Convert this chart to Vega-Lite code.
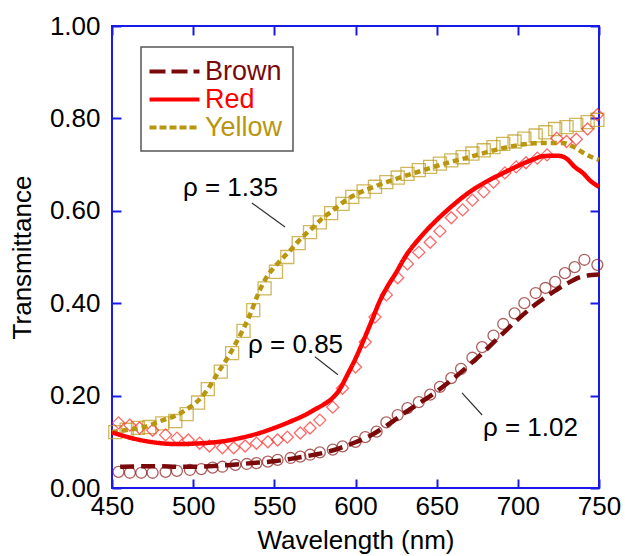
{
  "$schema": "https://vega.github.io/schema/vega-lite/v6.json",
  "width": 487,
  "height": 462,
  "autosize": {"type": "none"},
  "padding": {"left": 112, "top": 26, "right": 26, "bottom": 68},
  "background": "white",
  "config": {
    "view": {"stroke": "#1a1ae6", "strokeWidth": 2},
    "font": "Liberation Sans",
    "axis": {
      "grid": false, "domain": false, "tickColor": "#1a1ae6", "tickWidth": 2, "tickSize": -9,
      "labelFont": "Liberation Sans", "labelFontSize": 26, "labelColor": "#000",
      "titleFont": "Liberation Sans", "titleFontSize": 26, "titleFontWeight": "normal", "titleColor": "#000",
      "labelFlush": false, "labelOverlap": false
    },
    "legend": {
      "orient": "none", "legendX": 29, "legendY": 21,
      "padding": 10, "strokeColor": "#555", "strokeWidth": 1.5, "fillColor": "white",
      "labelFont": "Liberation Sans", "labelFontSize": 27,
      "symbolType": "M-2,0L2,0", "symbolSize": 625, "symbolStrokeWidth": 4, "symbolOffset": 9,
      "labelOffset": 16, "rowPadding": 0
    }
  },
  "datasets": {
    "model": [
      {"series": "Yellow", "wl": 450, "t": 0.121}, {"series": "Yellow", "wl": 460, "t": 0.126}, {"series": "Yellow", "wl": 470, "t": 0.132},
      {"series": "Yellow", "wl": 480, "t": 0.145}, {"series": "Yellow", "wl": 490, "t": 0.158}, {"series": "Yellow", "wl": 495, "t": 0.168},
      {"series": "Yellow", "wl": 500, "t": 0.18}, {"series": "Yellow", "wl": 505, "t": 0.196}, {"series": "Yellow", "wl": 510, "t": 0.219},
      {"series": "Yellow", "wl": 515, "t": 0.248}, {"series": "Yellow", "wl": 520, "t": 0.275}, {"series": "Yellow", "wl": 525, "t": 0.305},
      {"series": "Yellow", "wl": 530, "t": 0.338}, {"series": "Yellow", "wl": 535, "t": 0.375}, {"series": "Yellow", "wl": 540, "t": 0.42},
      {"series": "Yellow", "wl": 545, "t": 0.455}, {"series": "Yellow", "wl": 550, "t": 0.478}, {"series": "Yellow", "wl": 555, "t": 0.497},
      {"series": "Yellow", "wl": 560, "t": 0.515}, {"series": "Yellow", "wl": 565, "t": 0.535}, {"series": "Yellow", "wl": 570, "t": 0.552},
      {"series": "Yellow", "wl": 575, "t": 0.568}, {"series": "Yellow", "wl": 580, "t": 0.585}, {"series": "Yellow", "wl": 585, "t": 0.598},
      {"series": "Yellow", "wl": 590, "t": 0.612}, {"series": "Yellow", "wl": 595, "t": 0.625}, {"series": "Yellow", "wl": 600, "t": 0.635},
      {"series": "Yellow", "wl": 610, "t": 0.65}, {"series": "Yellow", "wl": 620, "t": 0.663}, {"series": "Yellow", "wl": 630, "t": 0.675},
      {"series": "Yellow", "wl": 640, "t": 0.686}, {"series": "Yellow", "wl": 650, "t": 0.697}, {"series": "Yellow", "wl": 660, "t": 0.707},
      {"series": "Yellow", "wl": 670, "t": 0.716}, {"series": "Yellow", "wl": 680, "t": 0.726}, {"series": "Yellow", "wl": 690, "t": 0.735},
      {"series": "Yellow", "wl": 700, "t": 0.742}, {"series": "Yellow", "wl": 710, "t": 0.746}, {"series": "Yellow", "wl": 720, "t": 0.747},
      {"series": "Yellow", "wl": 728, "t": 0.747}, {"series": "Yellow", "wl": 734, "t": 0.739}, {"series": "Yellow", "wl": 740, "t": 0.726},
      {"series": "Yellow", "wl": 745, "t": 0.717}, {"series": "Yellow", "wl": 750, "t": 0.71},

      {"series": "Red", "wl": 450, "t": 0.12}, {"series": "Red", "wl": 455, "t": 0.115}, {"series": "Red", "wl": 460, "t": 0.11},
      {"series": "Red", "wl": 470, "t": 0.102}, {"series": "Red", "wl": 480, "t": 0.097}, {"series": "Red", "wl": 490, "t": 0.095},
      {"series": "Red", "wl": 500, "t": 0.096}, {"series": "Red", "wl": 510, "t": 0.098}, {"series": "Red", "wl": 520, "t": 0.102},
      {"series": "Red", "wl": 530, "t": 0.109}, {"series": "Red", "wl": 540, "t": 0.118}, {"series": "Red", "wl": 550, "t": 0.13},
      {"series": "Red", "wl": 560, "t": 0.144}, {"series": "Red", "wl": 570, "t": 0.16}, {"series": "Red", "wl": 575, "t": 0.17},
      {"series": "Red", "wl": 580, "t": 0.18}, {"series": "Red", "wl": 585, "t": 0.192}, {"series": "Red", "wl": 590, "t": 0.212},
      {"series": "Red", "wl": 595, "t": 0.245}, {"series": "Red", "wl": 600, "t": 0.28}, {"series": "Red", "wl": 605, "t": 0.32},
      {"series": "Red", "wl": 610, "t": 0.362}, {"series": "Red", "wl": 615, "t": 0.405}, {"series": "Red", "wl": 620, "t": 0.438},
      {"series": "Red", "wl": 625, "t": 0.466}, {"series": "Red", "wl": 630, "t": 0.497}, {"series": "Red", "wl": 640, "t": 0.543},
      {"series": "Red", "wl": 650, "t": 0.58}, {"series": "Red", "wl": 660, "t": 0.612}, {"series": "Red", "wl": 670, "t": 0.64},
      {"series": "Red", "wl": 680, "t": 0.662}, {"series": "Red", "wl": 690, "t": 0.68}, {"series": "Red", "wl": 700, "t": 0.697},
      {"series": "Red", "wl": 710, "t": 0.712}, {"series": "Red", "wl": 715, "t": 0.718}, {"series": "Red", "wl": 720, "t": 0.719},
      {"series": "Red", "wl": 725, "t": 0.719}, {"series": "Red", "wl": 730, "t": 0.713}, {"series": "Red", "wl": 735, "t": 0.695},
      {"series": "Red", "wl": 740, "t": 0.682}, {"series": "Red", "wl": 745, "t": 0.664}, {"series": "Red", "wl": 750, "t": 0.652},

      {"series": "Brown", "wl": 455, "t": 0.046}, {"series": "Brown", "wl": 470, "t": 0.047}, {"series": "Brown", "wl": 480, "t": 0.047},
      {"series": "Brown", "wl": 490, "t": 0.046}, {"series": "Brown", "wl": 500, "t": 0.046}, {"series": "Brown", "wl": 510, "t": 0.047},
      {"series": "Brown", "wl": 520, "t": 0.049}, {"series": "Brown", "wl": 530, "t": 0.052}, {"series": "Brown", "wl": 540, "t": 0.055},
      {"series": "Brown", "wl": 550, "t": 0.058}, {"series": "Brown", "wl": 560, "t": 0.063}, {"series": "Brown", "wl": 570, "t": 0.069},
      {"series": "Brown", "wl": 580, "t": 0.076}, {"series": "Brown", "wl": 590, "t": 0.086}, {"series": "Brown", "wl": 600, "t": 0.099},
      {"series": "Brown", "wl": 610, "t": 0.115}, {"series": "Brown", "wl": 620, "t": 0.137}, {"series": "Brown", "wl": 630, "t": 0.162},
      {"series": "Brown", "wl": 640, "t": 0.185}, {"series": "Brown", "wl": 650, "t": 0.209}, {"series": "Brown", "wl": 660, "t": 0.236},
      {"series": "Brown", "wl": 670, "t": 0.266}, {"series": "Brown", "wl": 680, "t": 0.298}, {"series": "Brown", "wl": 690, "t": 0.332},
      {"series": "Brown", "wl": 700, "t": 0.365}, {"series": "Brown", "wl": 710, "t": 0.395}, {"series": "Brown", "wl": 720, "t": 0.42},
      {"series": "Brown", "wl": 730, "t": 0.442}, {"series": "Brown", "wl": 740, "t": 0.458}, {"series": "Brown", "wl": 750, "t": 0.462}
    ],
    "measured": [
      {"series": "Yellow", "wl": 452, "t": 0.121}, {"series": "Yellow", "wl": 459, "t": 0.126}, {"series": "Yellow", "wl": 466, "t": 0.13},
      {"series": "Yellow", "wl": 473, "t": 0.132}, {"series": "Yellow", "wl": 481, "t": 0.14}, {"series": "Yellow", "wl": 489, "t": 0.145},
      {"series": "Yellow", "wl": 496, "t": 0.16}, {"series": "Yellow", "wl": 503, "t": 0.185}, {"series": "Yellow", "wl": 509, "t": 0.214},
      {"series": "Yellow", "wl": 517, "t": 0.252}, {"series": "Yellow", "wl": 524, "t": 0.292}, {"series": "Yellow", "wl": 531, "t": 0.34},
      {"series": "Yellow", "wl": 537, "t": 0.385}, {"series": "Yellow", "wl": 544, "t": 0.432}, {"series": "Yellow", "wl": 551, "t": 0.468},
      {"series": "Yellow", "wl": 558, "t": 0.5}, {"series": "Yellow", "wl": 565, "t": 0.53}, {"series": "Yellow", "wl": 572, "t": 0.554},
      {"series": "Yellow", "wl": 578, "t": 0.575}, {"series": "Yellow", "wl": 585, "t": 0.595}, {"series": "Yellow", "wl": 592, "t": 0.615},
      {"series": "Yellow", "wl": 598, "t": 0.63}, {"series": "Yellow", "wl": 605, "t": 0.642}, {"series": "Yellow", "wl": 612, "t": 0.652},
      {"series": "Yellow", "wl": 619, "t": 0.662}, {"series": "Yellow", "wl": 626, "t": 0.672}, {"series": "Yellow", "wl": 632, "t": 0.68},
      {"series": "Yellow", "wl": 639, "t": 0.688}, {"series": "Yellow", "wl": 646, "t": 0.695}, {"series": "Yellow", "wl": 652, "t": 0.702},
      {"series": "Yellow", "wl": 659, "t": 0.709}, {"series": "Yellow", "wl": 666, "t": 0.716}, {"series": "Yellow", "wl": 672, "t": 0.724},
      {"series": "Yellow", "wl": 679, "t": 0.731}, {"series": "Yellow", "wl": 685, "t": 0.738}, {"series": "Yellow", "wl": 691, "t": 0.745},
      {"series": "Yellow", "wl": 698, "t": 0.75}, {"series": "Yellow", "wl": 704, "t": 0.756}, {"series": "Yellow", "wl": 711, "t": 0.763},
      {"series": "Yellow", "wl": 717, "t": 0.77}, {"series": "Yellow", "wl": 723, "t": 0.777}, {"series": "Yellow", "wl": 730, "t": 0.781},
      {"series": "Yellow", "wl": 736, "t": 0.786}, {"series": "Yellow", "wl": 743, "t": 0.792}, {"series": "Yellow", "wl": 749, "t": 0.797},

      {"series": "Red", "wl": 454, "t": 0.141}, {"series": "Red", "wl": 461, "t": 0.136}, {"series": "Red", "wl": 467, "t": 0.13},
      {"series": "Red", "wl": 475, "t": 0.125}, {"series": "Red", "wl": 483, "t": 0.115}, {"series": "Red", "wl": 490, "t": 0.108},
      {"series": "Red", "wl": 497, "t": 0.104}, {"series": "Red", "wl": 504, "t": 0.097}, {"series": "Red", "wl": 510, "t": 0.091},
      {"series": "Red", "wl": 518, "t": 0.087}, {"series": "Red", "wl": 525, "t": 0.087}, {"series": "Red", "wl": 532, "t": 0.091},
      {"series": "Red", "wl": 539, "t": 0.097}, {"series": "Red", "wl": 546, "t": 0.1}, {"series": "Red", "wl": 552, "t": 0.104},
      {"series": "Red", "wl": 558, "t": 0.11}, {"series": "Red", "wl": 566, "t": 0.119}, {"series": "Red", "wl": 572, "t": 0.13},
      {"series": "Red", "wl": 578, "t": 0.147}, {"series": "Red", "wl": 586, "t": 0.175}, {"series": "Red", "wl": 592, "t": 0.216},
      {"series": "Red", "wl": 600, "t": 0.262}, {"series": "Red", "wl": 606, "t": 0.316}, {"series": "Red", "wl": 612, "t": 0.37},
      {"series": "Red", "wl": 619, "t": 0.418}, {"series": "Red", "wl": 626, "t": 0.455}, {"series": "Red", "wl": 632, "t": 0.485},
      {"series": "Red", "wl": 639, "t": 0.51}, {"series": "Red", "wl": 646, "t": 0.532}, {"series": "Red", "wl": 652, "t": 0.556},
      {"series": "Red", "wl": 659, "t": 0.585}, {"series": "Red", "wl": 666, "t": 0.602}, {"series": "Red", "wl": 672, "t": 0.623},
      {"series": "Red", "wl": 679, "t": 0.641}, {"series": "Red", "wl": 685, "t": 0.662}, {"series": "Red", "wl": 692, "t": 0.682},
      {"series": "Red", "wl": 699, "t": 0.695}, {"series": "Red", "wl": 705, "t": 0.704}, {"series": "Red", "wl": 712, "t": 0.714},
      {"series": "Red", "wl": 718, "t": 0.721}, {"series": "Red", "wl": 724, "t": 0.757}, {"series": "Red", "wl": 730, "t": 0.75},
      {"series": "Red", "wl": 736, "t": 0.755}, {"series": "Red", "wl": 743, "t": 0.777}, {"series": "Red", "wl": 749, "t": 0.808},

      {"series": "Brown", "wl": 454, "t": 0.035}, {"series": "Brown", "wl": 461, "t": 0.033}, {"series": "Brown", "wl": 468, "t": 0.033},
      {"series": "Brown", "wl": 475, "t": 0.033}, {"series": "Brown", "wl": 483, "t": 0.035}, {"series": "Brown", "wl": 490, "t": 0.037},
      {"series": "Brown", "wl": 498, "t": 0.039}, {"series": "Brown", "wl": 505, "t": 0.041}, {"series": "Brown", "wl": 512, "t": 0.044},
      {"series": "Brown", "wl": 518, "t": 0.046}, {"series": "Brown", "wl": 526, "t": 0.05}, {"series": "Brown", "wl": 533, "t": 0.052},
      {"series": "Brown", "wl": 539, "t": 0.054}, {"series": "Brown", "wl": 546, "t": 0.057}, {"series": "Brown", "wl": 552, "t": 0.061},
      {"series": "Brown", "wl": 560, "t": 0.065}, {"series": "Brown", "wl": 566, "t": 0.068}, {"series": "Brown", "wl": 572, "t": 0.072},
      {"series": "Brown", "wl": 578, "t": 0.077}, {"series": "Brown", "wl": 586, "t": 0.083}, {"series": "Brown", "wl": 592, "t": 0.09},
      {"series": "Brown", "wl": 600, "t": 0.1}, {"series": "Brown", "wl": 606, "t": 0.11}, {"series": "Brown", "wl": 613, "t": 0.122},
      {"series": "Brown", "wl": 619, "t": 0.142}, {"series": "Brown", "wl": 626, "t": 0.158}, {"series": "Brown", "wl": 632, "t": 0.173},
      {"series": "Brown", "wl": 639, "t": 0.186}, {"series": "Brown", "wl": 646, "t": 0.202}, {"series": "Brown", "wl": 652, "t": 0.219},
      {"series": "Brown", "wl": 659, "t": 0.238}, {"series": "Brown", "wl": 665, "t": 0.258}, {"series": "Brown", "wl": 672, "t": 0.282},
      {"series": "Brown", "wl": 678, "t": 0.305}, {"series": "Brown", "wl": 685, "t": 0.33}, {"series": "Brown", "wl": 691, "t": 0.355},
      {"series": "Brown", "wl": 698, "t": 0.378}, {"series": "Brown", "wl": 704, "t": 0.4}, {"series": "Brown", "wl": 711, "t": 0.422},
      {"series": "Brown", "wl": 717, "t": 0.433}, {"series": "Brown", "wl": 723, "t": 0.446}, {"series": "Brown", "wl": 729, "t": 0.465},
      {"series": "Brown", "wl": 735, "t": 0.478}, {"series": "Brown", "wl": 741, "t": 0.494}, {"series": "Brown", "wl": 749, "t": 0.483}
    ],
    "labels": [
      {"label": "ρ = 1.35", "wl": 493.7, "t": 0.649},
      {"label": "ρ = 0.85", "wl": 533.8, "t": 0.31},
      {"label": "ρ = 1.02", "wl": 678.5, "t": 0.13}
    ],
    "leaders": [
      {"wl": 536.2, "t": 0.617, "wl2": 556.6, "t2": 0.565},
      {"wl": 575, "t": 0.284, "wl2": 589.2, "t2": 0.245},
      {"wl": 665.6, "t": 0.206, "wl2": 678, "t2": 0.158}
    ]
  },
  "layer": [
    {
      "data": {"name": "measured"},
      "mark": {"type": "point", "filled": false, "strokeWidth": 1.3},
      "encoding": {
        "x": {"field": "wl", "type": "quantitative", "scale": {"domain": [450, 750], "nice": false, "zero": false},
              "axis": {"orient": "top", "labels": false, "title": null, "values": [450, 500, 550, 600, 650, 700, 750]}},
        "y": {"field": "t", "type": "quantitative", "scale": {"domain": [0, 1], "nice": false},
              "axis": {"orient": "right", "labels": false, "title": null, "values": [0, 0.2, 0.4, 0.6, 0.8, 1]}},
        "color": {"field": "series", "type": "nominal", "legend": null,
                  "scale": {"domain": ["Brown", "Red", "Yellow"], "range": ["#8a1c1c", "#ff2a2a", "#bb9a18"]}},
        "shape": {"field": "series", "type": "nominal", "legend": null,
                  "scale": {"domain": ["Brown", "Red", "Yellow"], "range": ["circle", "diamond", "square"]}},
        "size": {"field": "series", "type": "nominal", "legend": null,
                 "scale": {"domain": ["Brown", "Red", "Yellow"], "range": [120, 170, 110]}}
      }
    },
    {
      "data": {"name": "model"},
      "mark": {"type": "line", "strokeWidth": 4.5, "interpolate": "monotone"},
      "encoding": {
        "x": {"field": "wl", "type": "quantitative", "scale": {"domain": [450, 750], "nice": false, "zero": false},
              "axis": {"orient": "bottom", "title": "Wavelength (nm)", "values": [450, 500, 550, 600, 650, 700, 750], "labelPadding": 14, "titlePadding": 8}},
        "y": {"field": "t", "type": "quantitative", "scale": {"domain": [0, 1], "nice": false},
              "axis": {"orient": "left", "title": "Transmittance", "values": [0, 0.2, 0.4, 0.6, 0.8, 1], "format": ".2f", "labelPadding": 21, "titlePadding": 14}},
        "color": {"field": "series", "type": "nominal",
                  "scale": {"domain": ["Brown", "Red", "Yellow"], "range": ["#7a0a0a", "#ff0000", "#b8960f"]},
                  "legend": {"title": null, "encode": {
                    "labels": {"update": {"fill": {"signal": "datum.value === 'Brown' ? '#7a0a0a' : datum.value === 'Red' ? '#ff0000' : '#b8960f'"}}},
                    "symbols": {"update": {"strokeDash": {"signal": "datum.value === 'Brown' ? [16, 6] : datum.value === 'Red' ? [1, 0] : [7, 3]"}}}}}},
        "strokeDash": {"field": "series", "type": "nominal",
                       "scale": {"domain": ["Brown", "Red", "Yellow"], "range": [[14, 7], [1, 0], [6, 4]]},
                       "legend": {"title": null, "encode": {
                    "labels": {"update": {"fill": {"signal": "datum.value === 'Brown' ? '#7a0a0a' : datum.value === 'Red' ? '#ff0000' : '#b8960f'"}}},
                    "symbols": {"update": {"strokeDash": {"signal": "datum.value === 'Brown' ? [16, 6] : datum.value === 'Red' ? [1, 0] : [7, 3]"}}}}}}
      }
    },
    {
      "data": {"name": "leaders"},
      "mark": {"type": "rule", "stroke": "#333333", "strokeWidth": 1.2},
      "encoding": {
        "x": {"field": "wl", "type": "quantitative", "axis": null},
        "y": {"field": "t", "type": "quantitative", "axis": null},
        "x2": {"field": "wl2"},
        "y2": {"field": "t2"}
      }
    },
    {
      "data": {"name": "labels"},
      "mark": {"type": "text", "align": "left", "baseline": "middle", "fontSize": 26, "font": "Liberation Sans", "color": "#000"},
      "encoding": {
        "x": {"field": "wl", "type": "quantitative", "axis": null},
        "y": {"field": "t", "type": "quantitative", "axis": null},
        "text": {"field": "label"}
      }
    }
  ],
  "resolve": {"axis": {"x": "independent", "y": "independent"}, "scale": {"color": "independent"}}
}
